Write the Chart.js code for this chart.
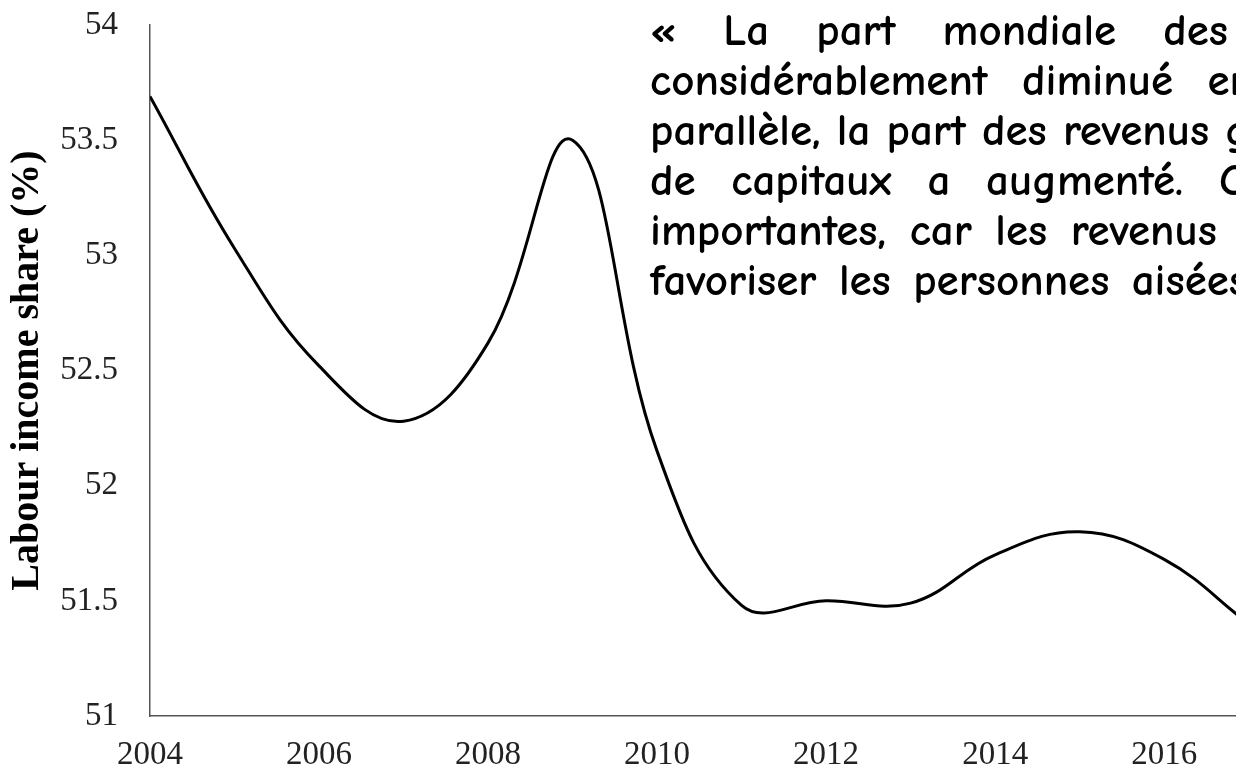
<!DOCTYPE html>
<html>
<head>
<meta charset="utf-8">
<script src="https://cdn.jsdelivr.net/npm/chart.js@4.4.0/dist/chart.umd.min.js"></script>
<style>
	html, body { margin: 0; padding: 0; background: #fff; }
	#wrap { position: relative; width: 1236px; height: 773px; overflow: hidden; }
	#quote {
		position: absolute; left: 650px; top: 5px;
		font-family: "Comic Sans MS", "Comic Neue", "Noto Sans", sans-serif;
		font-size: 45px; font-weight: bold; line-height: 50px; color: #000; white-space: nowrap;
	}
	.row { display: flex; justify-content: space-between; column-gap: 12px; }
</style>
</head>
<body>
<div id="wrap">
	<canvas id="share_chart" width="1236" height="773"></canvas>
	<div id="quote">
		<div class="row" style="width:578px"><span>«</span><span>La</span><span>part</span><span>mondiale</span><span>des</span></div>
		<div class="row" style="width:604px"><span>considérablement</span><span>diminué</span><span>en</span></div>
		<div class="row" style="width:600px"><span>parallèle,</span><span>la</span><span>part</span><span>des</span><span>revenus</span><span>g</span></div>
		<div class="row" style="width:596px"><span>de</span><span>capitaux</span><span>a</span><span>augmenté.</span><span>C</span></div>
		<div class="row" style="width:567px"><span>importantes,</span><span>car</span><span>les</span><span>revenus</span></div>
		<div class="row" style="width:598px"><span>favoriser</span><span>les</span><span>personnes</span><span>aisées</span></div>
	</div>
</div>
<script>
var years = [2004, 2005, 2006, 2007, 2008, 2009, 2010, 2011, 2012, 2013, 2014, 2015, 2016, 2017],
	share = [53.69, 53.03, 52.52, 52.28, 52.62, 53.50, 52.15, 51.48, 51.50, 51.49, 51.70, 51.80, 51.68, 51.40],
	xTicks = [2004, 2006, 2008, 2010, 2012, 2014, 2016],
	yTicks = [51, 51.5, 52, 52.5, 53, 53.5, 54],
	axisTitle = 'Labour income share (%)';

var points = years.map(function(y, i) {
	return { x: y, y: share[i] };
});

var tickFont = { family: '"Liberation Serif", "Times New Roman", serif', size: 33 };

var config = {
	type: 'line',
	data: {
		datasets: [{
			data: points,
			borderColor: '#000',
			borderWidth: 3,
			pointRadius: 0,
			tension: 0.4,
			fill: false
		}]
	},
	options: {
		responsive: false,
		animation: false,
		devicePixelRatio: 1,
		layout: { padding: { top: 25, left: 0, right: 0, bottom: 0 } },
		plugins: {
			legend: { display: false },
			tooltip: { enabled: false }
		},
		scales: {
			x: {
				type: 'linear',
				min: 2004,
				max: 2016.85,
				grid: { display: false, drawTicks: false },
				border: { display: true, color: '#555', width: 1.5 },
				afterBuildTicks: function(scale) {
					scale.ticks = xTicks.map(function(v) { return { value: v }; });
				},
				afterFit: function(scale) { scale.height = 57; },
				ticks: {
					autoSkip: false,
					maxRotation: 0,
					padding: 20,
					color: '#222',
					font: tickFont,
					callback: function(v) { return String(v); }
				}
			},
			y: {
				min: 51,
				max: 54,
				grid: { display: false, drawTicks: false },
				border: { display: true, color: '#555', width: 1.5 },
				afterBuildTicks: function(scale) {
					scale.ticks = yTicks.map(function(v) { return { value: v }; });
				},
				afterFit: function(scale) {
					scale.width = 150;
					// let the top label hang into the padding instead of pushing the plot down
					scale.paddingTop = 0;
					scale.paddingBottom = 0;
				},
				ticks: {
					padding: 32,
					color: '#222',
					font: tickFont,
					callback: function(v) { return String(v); }
				},
				title: {
					display: true,
					text: axisTitle,
					color: '#000',
					padding: { top: 4, bottom: 0 },
					font: { family: '"Liberation Serif", "Times New Roman", serif', size: 40, weight: 'bold' }
				}
			}
		}
	}
};

new Chart(document.getElementById('share_chart').getContext('2d'), config);
</script>
</body>
</html>
